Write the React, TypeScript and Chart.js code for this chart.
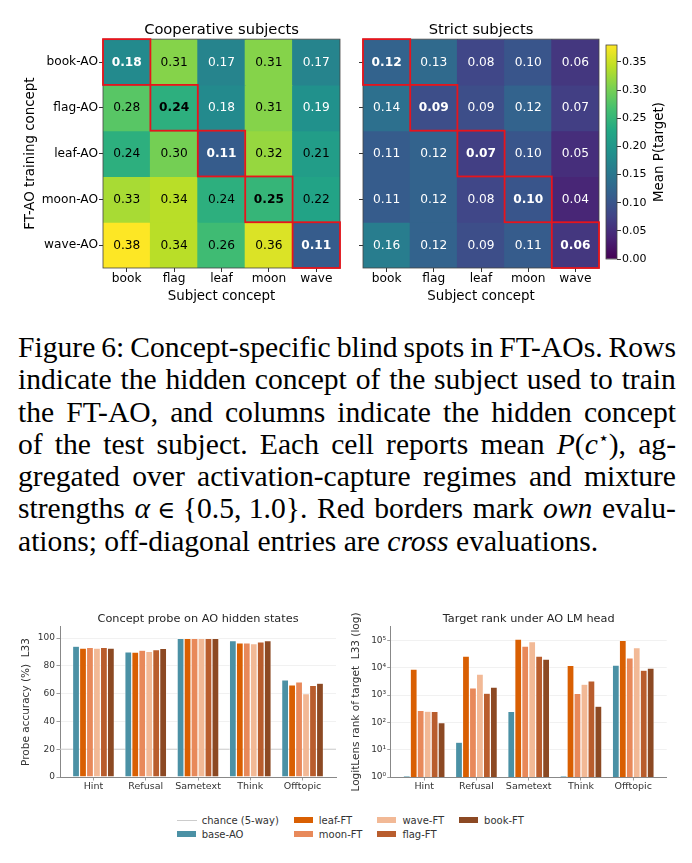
import React, { useEffect, useRef } from 'react';
import { Chart, registerables } from 'chart.js';

Chart.register(...registerables);

// ---------------- data ----------------
const SUBJECTS = ['book', 'flag', 'leaf', 'moon', 'wave'];
const TRAINING = ['book-AO', 'flag-AO', 'leaf-AO', 'moon-AO', 'wave-AO'];

const COOP_BOOK = [0.18, 0.31, 0.17, 0.31, 0.17];
const COOP_FLAG = [0.28, 0.24, 0.18, 0.31, 0.19];
const COOP_LEAF = [0.24, 0.30, 0.11, 0.32, 0.21];
const COOP_MOON = [0.33, 0.34, 0.24, 0.25, 0.22];
const COOP_WAVE = [0.38, 0.34, 0.26, 0.36, 0.11];
const COOP = [COOP_BOOK, COOP_FLAG, COOP_LEAF, COOP_MOON, COOP_WAVE];

const STRICT_BOOK = [0.12, 0.13, 0.08, 0.10, 0.06];
const STRICT_FLAG = [0.14, 0.09, 0.09, 0.12, 0.07];
const STRICT_LEAF = [0.11, 0.12, 0.07, 0.10, 0.05];
const STRICT_MOON = [0.11, 0.12, 0.08, 0.10, 0.04];
const STRICT_WAVE = [0.16, 0.12, 0.09, 0.11, 0.06];
const STRICT = [STRICT_BOOK, STRICT_FLAG, STRICT_LEAF, STRICT_MOON, STRICT_WAVE];

const CMAP_MAX = 0.38;
const CBAR_TICKS = [0, 0.05, 0.1, 0.15, 0.2, 0.25, 0.3, 0.35];
const CBAR_LABEL = 'Mean P(target)';
const TEXT_THRESHOLD = 0.2;

const TASKS = ['Hint', 'Refusal', 'Sametext', 'Think', 'Offtopic'];
const SERIES = ['base-AO', 'leaf-FT', 'moon-FT', 'wave-FT', 'flag-FT', 'book-FT'];
const SERIES_COLORS = ['#4b91a5', '#d95f02', '#e8895a', '#f2b996', '#b95d2d', '#8c4923'];

const PROBE_BASE = [94.2, 90.1, 99.8, 98.1, 69.9];
const PROBE_LEAF = [92.8, 89.9, 99.8, 96.6, 66.3];
const PROBE_MOON = [93.3, 91.3, 99.8, 96.6, 68.4];
const PROBE_WAVE = [92.8, 90.4, 99.8, 95.9, 60.0];
const PROBE_FLAG = [93.3, 91.6, 99.8, 97.3, 66.0];
const PROBE_BOOK = [92.8, 92.5, 99.8, 98.1, 67.5];
const PROBE = [PROBE_BASE, PROBE_LEAF, PROBE_MOON, PROBE_WAVE, PROBE_FLAG, PROBE_BOOK];

const RANK_BASE = [1.1, 18.7, 250, 1.1, 12500];
const RANK_LEAF = [8900, 26700, 112000, 12100, 100000];
const RANK_MOON = [271, 1830, 62000, 1140, 23000];
const RANK_WAVE = [257, 5860, 89000, 2500, 54000];
const RANK_FLAG = [250, 1170, 26700, 3300, 8150];
const RANK_BOOK = [98, 1950, 20700, 390, 9700];
const RANK = [RANK_BASE, RANK_LEAF, RANK_MOON, RANK_WAVE, RANK_FLAG, RANK_BOOK];

const CHANCE = 20;
const CHANCE_LABEL = 'chance (5-way)';
const ACC_TICKS = [0, 20, 40, 60, 80, 100];
const ACC_MAX = 108;
const RANK_TICKS = [1, 10, 100, 1000, 10000, 100000];
const RANK_TICK_LABELS = ['10\u2070', '10\u00b9', '10\u00b2', '10\u00b3', '10\u2074', '10\u2075'];
const RANK_MAX = 310000;
const X_MIN = -0.64;
const X_MAX = 4.64;

// ---------------- style ----------------
const FONT = '"DejaVu Sans", sans-serif';
const SERIF = '"Liberation Serif", "Times New Roman", serif';
const AXIS_GREY = '#888888';
const TEXT_DARK = '#333333';
const CHANCE_COLOR = '#cccccc';

const VIRIDIS = ['#440154', '#482475', '#414487', '#355f8d', '#2a788e', '#21918c', '#22a884', '#44bf70', '#7ad151', '#bddf26', '#fde725'];

function hexToRgb(h: string) {
  const n = parseInt(h.slice(1), 16);
  return [(n >> 16) & 255, (n >> 8) & 255, n & 255];
}
function viridis(t: number) {
  const c = Math.max(0, Math.min(1, t));
  const p = c * (VIRIDIS.length - 1);
  const i = Math.min(VIRIDIS.length - 2, Math.floor(p));
  const f = p - i;
  const a = hexToRgb(VIRIDIS[i]);
  const b = hexToRgb(VIRIDIS[i + 1]);
  const m = a.map((v, k) => Math.round(v + (b[k] - v) * f));
  return `rgb(${m[0]},${m[1]},${m[2]})`;
}

Chart.defaults.font.family = FONT;

// ---------------- heatmap ----------------
function heatmapPlugin(values: number[][]) {
  return {
    id: 'heatmapDecor',
    afterDatasetsDraw(chart: any) {
      const { ctx, chartArea: ca, scales } = chart;
      const xs = scales.x;
      const ys = scales.y;
      ctx.save();
      ctx.textAlign = 'center';
      ctx.textBaseline = 'middle';
      values.forEach((row, r) => {
        row.forEach((v, c) => {
          ctx.font = `${r === c ? 'bold ' : ''}12.2px ${FONT}`;
          ctx.fillStyle = v < TEXT_THRESHOLD ? '#ffffff' : '#000000';
          ctx.fillText(v.toFixed(2), xs.getPixelForValue(c), ys.getPixelForValue(r) + 0.5);
        });
      });
      ctx.strokeStyle = '#444444';
      ctx.lineWidth = 0.8;
      ctx.strokeRect(ca.left, ca.top, ca.right - ca.left, ca.bottom - ca.top);
      ctx.strokeStyle = '#e8141c';
      ctx.lineWidth = 1.8;
      values.forEach((_, i) => {
        const el = chart.getDatasetMeta(i).data[i];
        const p = el.getProps(['x', 'y', 'base', 'width'], true);
        ctx.strokeRect(p.x - p.width / 2, Math.min(p.y, p.base), p.width, Math.abs(p.base - p.y));
      });
      ctx.restore();
    },
  };
}

function heatmapConfig(values: number[][], title: string, showRowLabels: boolean, yWidth: number, padRight: number) {
  return {
    type: 'bar',
    data: {
      labels: SUBJECTS,
      datasets: values.map((row, r) => ({
        label: TRAINING[r],
        data: row.map(() => [r - 0.5, r + 0.5]),
        backgroundColor: row.map((v) => viridis(v / CMAP_MAX)),
        borderWidth: 0,
        grouped: false,
        barPercentage: 1,
        categoryPercentage: 1,
        inflateAmount: 0.5,
      })),
    },
    options: {
      animation: false,
      responsive: false,
      devicePixelRatio: 1,
      layout: { padding: { left: 0, right: padRight, top: 0, bottom: 0 } },
      plugins: {
        legend: { display: false },
        tooltip: { enabled: false },
        title: {
          display: true,
          text: title,
          fullSize: false,
          color: '#000000',
          font: { family: FONT, size: 14.7, weight: 'normal' },
          padding: { top: 21.5, bottom: 0 },
        },
      },
      scales: {
        x: {
          type: 'category',
          offset: true,
          grid: { display: true, drawOnChartArea: false, offset: false, tickLength: 4, tickColor: '#000000', tickWidth: 0.8 },
          border: { display: false },
          ticks: { color: '#000000', font: { family: FONT, size: 12.2 }, padding: 0, maxRotation: 0, autoSkip: false },
          title: { display: true, text: 'Subject concept', color: '#000000', font: { family: FONT, size: 13.4 }, padding: { top: 0, bottom: 5 } },
          afterFit: (s: any) => { s.height = 42; },
        },
        y: {
          type: 'linear',
          min: -0.5,
          max: 4.5,
          reverse: true,
          afterBuildTicks: (s: any) => { s.ticks = TRAINING.map((_, i) => ({ value: i })); },
          grid: { display: true, drawOnChartArea: false, tickLength: 4, tickColor: '#000000', tickWidth: 0.8 },
          border: { display: false },
          ticks: {
            autoSkip: false,
            color: '#000000',
            font: { family: FONT, size: 12.2 },
            padding: 1,
            callback: (v: any) => (showRowLabels ? TRAINING[v] : ''),
          },
          title: {
            display: showRowLabels,
            text: 'FT-AO training concept',
            color: '#000000',
            font: { family: FONT, size: 13.4 },
            padding: { top: 22, bottom: 0 },
          },
          afterFit: (s: any) => { s.width = yWidth; },
        },
      },
    },
    plugins: [heatmapPlugin(values)],
  };
}

function colorbarConfig() {
  return {
    type: 'bar',
    data: {
      labels: [''],
      datasets: [
        {
          label: CBAR_LABEL,
          data: [[0, CMAP_MAX]],
          backgroundColor: (c: any) => {
            const chart = c.chart;
            if (!chart.chartArea) return VIRIDIS[5];
            const ys = chart.scales.y;
            const g = chart.ctx.createLinearGradient(0, ys.getPixelForValue(0), 0, ys.getPixelForValue(CMAP_MAX));
            VIRIDIS.forEach((col, i) => g.addColorStop(i / (VIRIDIS.length - 1), col));
            return g;
          },
          borderWidth: 0,
          barPercentage: 1,
          categoryPercentage: 1,
        },
      ],
    },
    options: {
      animation: false,
      responsive: false,
      devicePixelRatio: 1,
      layout: { padding: { left: 6, right: 0, top: 45, bottom: 51 } },
      plugins: { legend: { display: false }, tooltip: { enabled: false }, title: { display: false } },
      scales: {
        x: { display: false },
        y: {
          position: 'right',
          min: 0,
          max: CMAP_MAX,
          afterBuildTicks: (s: any) => { s.ticks = CBAR_TICKS.map((v) => ({ value: v })); },
          ticks: { color: '#000000', font: { family: FONT, size: 11 }, padding: 1, callback: (v: any) => Number(v).toFixed(2) },
          grid: { drawOnChartArea: false, tickLength: 4, tickColor: '#000000', tickWidth: 0.8 },
          border: { display: false },
          afterFit: (s: any) => { s.width = 75; },
        },
      },
    },
    plugins: [
      {
        id: 'cbarDecor',
        afterDraw(chart: any) {
          const { ctx, chartArea: ca } = chart;
          ctx.save();
          ctx.strokeStyle = '#444444';
          ctx.lineWidth = 0.8;
          ctx.strokeRect(ca.left, ca.top, ca.right - ca.left, ca.bottom - ca.top);
          ctx.translate(ca.right + 43, (ca.top + ca.bottom) / 2);
          ctx.rotate(-Math.PI / 2);
          ctx.font = `13.4px ${FONT}`;
          ctx.fillStyle = '#000000';
          ctx.textAlign = 'center';
          ctx.textBaseline = 'middle';
          ctx.fillText(CBAR_LABEL, 0, 0);
          ctx.restore();
        },
      },
    ],
  };
}

// ---------------- bar charts ----------------
const chancePlugin = {
  id: 'chanceLine',
  beforeDatasetsDraw(chart: any) {
    const { ctx, chartArea: ca, scales } = chart;
    const py = scales.y.getPixelForValue(CHANCE);
    ctx.save();
    ctx.strokeStyle = CHANCE_COLOR;
    ctx.lineWidth = 1;
    ctx.beginPath();
    ctx.moveTo(ca.left, py);
    ctx.lineTo(ca.right, py);
    ctx.stroke();
    ctx.restore();
  },
};

function barConfig(values: number[][], title: string, yScale: any, padRight: number, extra: any[]) {
  return {
    type: 'bar',
    data: {
      datasets: SERIES.map((name, s) => ({
        label: name,
        data: values[s].map((v, i) => ({ x: i, y: v })),
        backgroundColor: SERIES_COLORS[s],
        borderColor: '#ffffff',
        borderWidth: 0.6,
        categoryPercentage: 0.8,
        barPercentage: 1,
      })),
    },
    options: {
      animation: false,
      responsive: false,
      devicePixelRatio: 1,
      layout: { padding: { left: 0, right: padRight, top: 0, bottom: 0 } },
      plugins: {
        legend: { display: false },
        tooltip: { enabled: false },
        title: {
          display: true,
          text: title,
          fullSize: false,
          color: '#262626',
          font: { family: FONT, size: 11.3, weight: 'normal' },
          padding: { top: 12.2, bottom: 1.2 },
        },
      },
      scales: {
        x: {
          type: 'linear',
          offset: false,
          min: X_MIN,
          max: X_MAX,
          afterBuildTicks: (s: any) => { s.ticks = TASKS.map((_, i) => ({ value: i })); },
          ticks: { autoSkip: false, maxRotation: 0, color: TEXT_DARK, font: { family: FONT, size: 9.5 }, padding: 0, callback: (v: any) => TASKS[v] ?? '' },
          grid: { drawOnChartArea: false, offset: false, tickLength: 3.5, tickColor: AXIS_GREY, tickWidth: 0.8 },
          border: { color: AXIS_GREY, width: 1 },
          afterFit: (s: any) => { s.height = 23; },
        },
        y: yScale,
      },
    },
    plugins: extra,
  };
}

function probeConfig() {
  return barConfig(PROBE, 'Concept probe on AO hidden states', {
    type: 'linear',
    min: 0,
    max: ACC_MAX,
    afterBuildTicks: (s: any) => { s.ticks = ACC_TICKS.map((v) => ({ value: v })); },
    ticks: { color: TEXT_DARK, font: { family: FONT, size: 9 }, padding: 1.5, callback: (v: any) => String(v) },
    grid: { color: '#eeeeee', lineWidth: 0.8, tickLength: 3.5, tickColor: AXIS_GREY, tickWidth: 0.8 },
    border: { color: AXIS_GREY, width: 1 },
    title: { display: true, text: 'Probe accuracy (%)  L33', color: TEXT_DARK, font: { family: FONT, size: 10.5 }, padding: { top: 19.7, bottom: 0 } },
    afterFit: (s: any) => { s.width = 60; },
  }, 9, [chancePlugin]);
}

function rankConfig() {
  return barConfig(RANK, 'Target rank under AO LM head', {
    type: 'logarithmic',
    min: 1,
    max: RANK_MAX,
    afterBuildTicks: (s: any) => { s.ticks = RANK_TICKS.map((v) => ({ value: v })); },
    ticks: { color: TEXT_DARK, font: { family: FONT, size: 9 }, padding: 1, callback: (v: any) => RANK_TICK_LABELS[RANK_TICKS.indexOf(Number(v))] ?? '' },
    grid: { color: '#eeeeee', lineWidth: 0.8, tickLength: 3.5, tickColor: AXIS_GREY, tickWidth: 0.8 },
    border: { color: AXIS_GREY, width: 1 },
    title: { display: true, text: 'LogitLens rank of target  L33 (log)', color: TEXT_DARK, font: { family: FONT, size: 10.5 }, padding: { top: 5.4, bottom: 0 } },
    afterFit: (s: any) => { s.width = 45.7; },
  }, 25.3, []);
}

// ---------------- components ----------------
function ChartCanvas(props: { make: () => any; left: number; top: number; width: number; height: number }) {
  const ref = useRef<HTMLCanvasElement>(null);
  useEffect(() => {
    const chart = new Chart(ref.current as HTMLCanvasElement, props.make());
    return () => chart.destroy();
  }, []);
  return (
    <canvas
      ref={ref}
      width={props.width}
      height={props.height}
      style={{ position: 'absolute', left: props.left, top: props.top, width: props.width, height: props.height }}
    />
  );
}

const CAPTION_LINE_H = 32.3;

function JLine(props: { words: React.ReactNode[] }) {
  return (
    <div style={{ display: 'flex', justifyContent: 'space-between', height: CAPTION_LINE_H, lineHeight: `${CAPTION_LINE_H}px`, whiteSpace: 'nowrap' }}>
      {props.words.map((w, i) => (
        <span key={i}>{w}</span>
      ))}
    </div>
  );
}

function Caption() {
  const pc = (
    <span>
      <i>P</i>(<i>c</i>
      <sup style={{ fontSize: '0.62em', lineHeight: 0, verticalAlign: '0.55em' }}>{'\u22c6'}</sup>),
    </span>
  );
  const alpha = (
    <span>
      <i>{'\u03b1'}</i>
      {'\u2005'}
      <span style={{ fontSize: '0.82em', fontFamily: '"DejaVu Serif", serif' }}>{'\u2208'}</span>
      {'\u2005{0.5, 1.0}.'}
    </span>
  );
  return (
    <div style={{ position: 'absolute', left: 18, top: 331, width: 658, fontFamily: SERIF, fontSize: 29.6, color: '#000' }}>
      <JLine words={['Figure', '6:', 'Concept-specific', 'blind', 'spots', 'in', 'FT-AOs.', 'Rows']} />
      <JLine words={['indicate', 'the', 'hidden', 'concept', 'of', 'the', 'subject', 'used', 'to', 'train']} />
      <JLine words={['the', 'FT-AO,', 'and', 'columns', 'indicate', 'the', 'hidden', 'concept']} />
      <JLine words={['of', 'the', 'test', 'subject.', 'Each', 'cell', 'reports', 'mean', pc, 'ag-']} />
      <JLine words={['gregated', 'over', 'activation-capture', 'regimes', 'and', 'mixture']} />
      <JLine words={['strengths', alpha, 'Red', 'borders', 'mark', <i>own</i>, 'evalu-']} />
      <div style={{ height: CAPTION_LINE_H, lineHeight: `${CAPTION_LINE_H}px`, whiteSpace: 'nowrap' }}>
        ations; off-diagonal entries are <i>cross</i> evaluations.
      </div>
    </div>
  );
}

function Legend() {
  const items = [
    { label: CHANCE_LABEL, color: CHANCE_COLOR, line: true },
    ...SERIES.map((s, i) => ({ label: s, color: SERIES_COLORS[i], line: false })),
  ];
  return (
    <div
      style={{
        position: 'absolute',
        left: 176.7,
        top: 812.9,
        display: 'grid',
        gridTemplateRows: '14.3px 14.3px',
        gridAutoFlow: 'column',
        columnGap: 15,
        fontFamily: FONT,
        fontSize: 10,
        color: TEXT_DARK,
      }}
    >
      {items.map((it) => (
        <div key={it.label} style={{ display: 'flex', alignItems: 'center', height: 14.3, whiteSpace: 'nowrap' }}>
          <span
            style={
              it.line
                ? { display: 'inline-block', width: 20, height: 0, borderTop: `1px solid ${it.color}`, marginRight: 5 }
                : { display: 'inline-block', width: 19, height: 6, background: it.color, marginRight: 6 }
            }
          />
          <span>{it.label}</span>
        </div>
      ))}
    </div>
  );
}

export default function App() {
  return (
    <div style={{ position: 'fixed', left: 0, top: 0, width: 692, height: 863, background: '#ffffff', overflow: 'hidden' }}>
      <ChartCanvas make={() => heatmapConfig(COOP, 'Cooperative subjects', true, 103, 5)} left={0} top={0} width={345} height={310} />
      <ChartCanvas make={() => heatmapConfig(STRICT, 'Strict subjects', false, 18, 1)} left={345} top={0} width={255} height={310} />
      <ChartCanvas make={colorbarConfig} left={600} top={0} width={92} height={310} />
      <Caption />
      <ChartCanvas make={probeConfig} left={0} top={600} width={345} height={200} />
      <ChartCanvas make={rankConfig} left={345} top={600} width={347} height={200} />
      <Legend />
    </div>
  );
}
